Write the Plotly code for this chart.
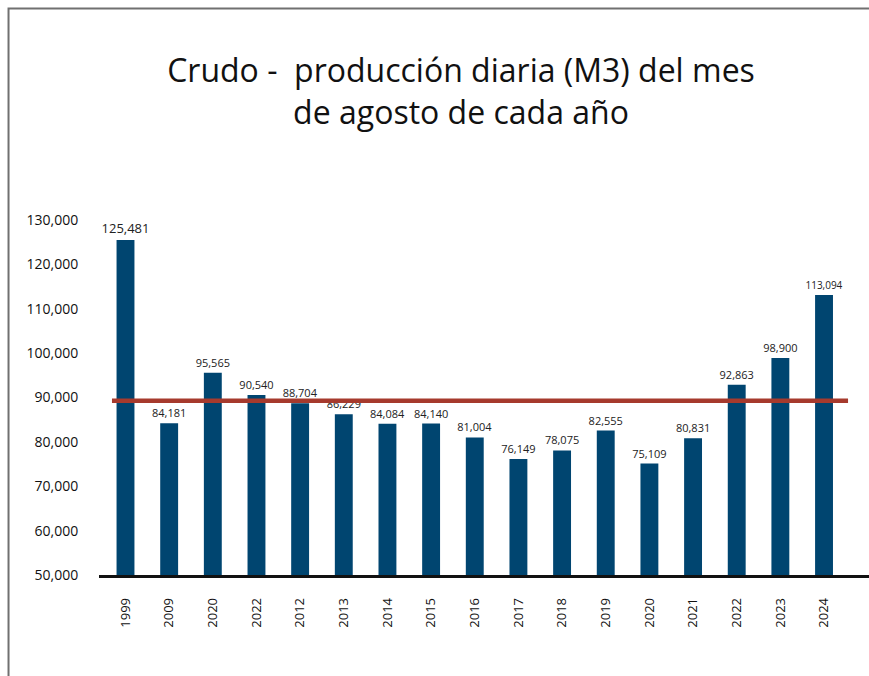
import plotly.graph_objects as go

# Producción diaria de crudo (M3), mes de agosto
years = ["1999", "2009", "2020", "2022", "2012", "2013", "2014", "2015", "2016",
         "2017", "2018", "2019", "2020", "2021", "2022", "2023", "2024"]
production = [125481, 84181, 95565, 90540, 88704, 86229, 84084, 84140, 81004,
              76149, 78075, 82555, 75109, 80831, 92863, 98900, 113094]
label_sizes = [13, 11, 11, 11, 11, 11, 11, 11, 11,
               11, 11, 11, 11, 11, 11, 11, 10]

positions = list(range(len(years)))
average = sum(production) / len(production)

fig = go.Figure()

# Bars
fig.add_trace(go.Bar(
    x=positions,
    y=production,
    width=0.41,
    marker=dict(color="#004570", line=dict(width=0)),
    text=[f"{v:,}" for v in production],
    textposition="outside",
    constraintext="none",
    textfont=dict(family="Open Sans", size=label_sizes, color="#222222"),
    cliponaxis=False,
    hoverinfo="x+y",
))

# Average line
fig.add_shape(type="line", xref="x", yref="y",
              x0=-0.31, x1=16.55, y0=average, y1=average,
              line=dict(color="#A63A2D", width=4.5), layer="above")

# Frame around the chart: only top and left edges fall inside the page
fig.add_shape(type="rect", xref="paper", yref="paper",
              x0=-0.1175, x1=1.05, y0=-0.4, y1=1.596,
              line=dict(color="#707070", width=2), fillcolor="rgba(0,0,0,0)",
              layer="below")

fig.update_layout(
    width=869, height=676,
    margin=dict(l=99, r=0, t=220, b=101),
    paper_bgcolor="white",
    plot_bgcolor="white",
    showlegend=False,
    title=dict(
        text="Crudo -  producción diaria (M3) del mes<br>de agosto de cada año",
        x=0.5305, xanchor="center", y=0.878, yanchor="top",
        font=dict(family="Open Sans", size=32, color="#111111"),
    ),
    xaxis=dict(
        tickmode="array", tickvals=positions, ticktext=years,
        range=[-0.607, 17.03],
        tickangle=-90,
        tickfont=dict(family="Open Sans", size=13, color="#111111"),
        showgrid=False, zeroline=False,
        showline=True, linecolor="#111111", linewidth=2.5,
        ticks="outside", ticklen=15, tickcolor="rgba(0,0,0,0)",
    ),
    yaxis=dict(
        range=[50000, 130000],
        tickvals=[50000, 60000, 70000, 80000, 90000, 100000, 110000, 120000, 130000],
        tickformat=",",
        tickfont=dict(family="Open Sans", size=14, color="#111111"),
        showgrid=False, zeroline=False, showline=False,
        ticks="outside", ticklen=17, tickcolor="rgba(0,0,0,0)",
    ),
)

fig.write_html("out.html", config={"displayModeBar": False},
               post_script="document.body.style.margin='0';document.body.style.overflow='hidden';")
